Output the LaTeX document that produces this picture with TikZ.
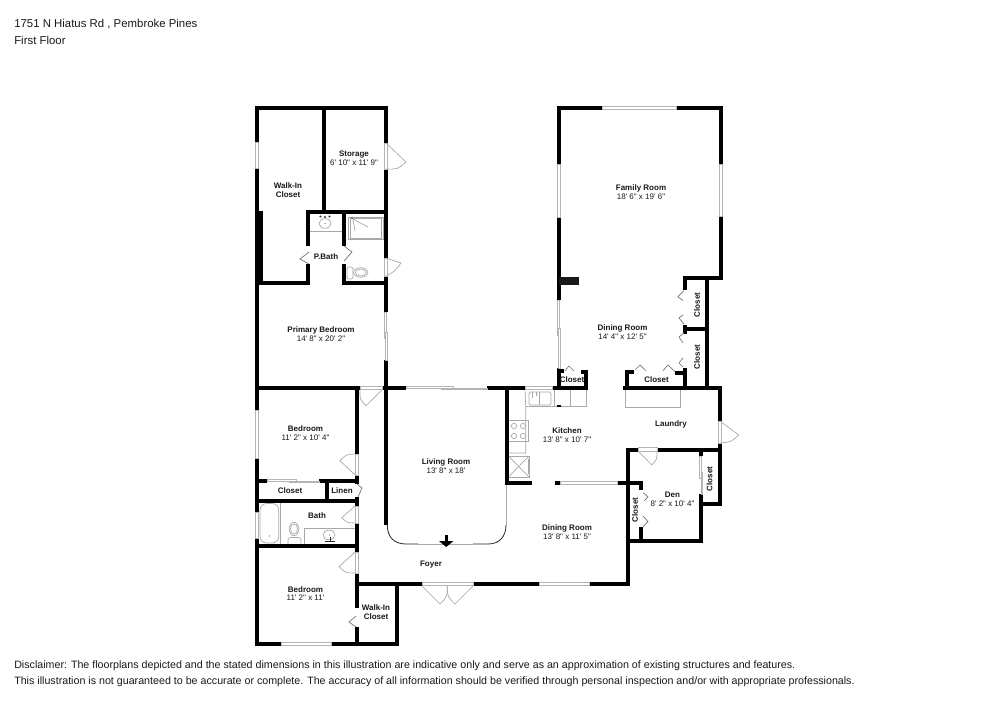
\documentclass[tikz,border=0pt]{standalone}
\usepackage{fontspec}
\newfontfamily\lab{Liberation Sans}
\usetikzlibrary{calc}
\definecolor{wingray}{HTML}{B4B4B4}
\definecolor{leafgray}{HTML}{A8A8A8}
\definecolor{chevgray}{HTML}{707070}
\tikzset{
  wall/.style={line width=3pt,line cap=butt,line join=miter,black},
  wintop/.style={draw=wingray,fill=white,line width=0.5pt},
  doorleaf/.style={draw=leafgray,line width=0.5pt},
  chev/.style={draw=chevgray,line width=0.5pt},
  fix/.style={draw=leafgray,line width=0.5pt},
  roomlab/.style={font=\lab\fontsize{6}{6.6}\selectfont,align=center,inner sep=0pt,text=black!90},
  headlab/.style={font=\lab\fontsize{8.55}{10}\selectfont,anchor=base west,inner sep=0pt,text=black!90},
  disclab/.style={font=\lab\fontsize{8.01}{10}\selectfont,anchor=base west,inner sep=0pt,text=black!90},
}
\newcommand{\HWin}[3]{\draw[wintop] (#1,#3-1.7) rectangle (#2,#3+1.7);}
\newcommand{\VWin}[3]{\draw[wintop] (#3-1.7,#1) rectangle (#3+1.7,#2);}
\newcommand{\Door}[3]{\draw[doorleaf] (#1) -- (#2) .. controls ($(#1)!1.17!($(#2)!.5!(#3)$)$) .. (#3);}
\newcommand{\Chev}[3]{\draw[chev] (#1) -- (#2) -- (#3);}
\begin{document}
\begin{tikzpicture}[x=0.75pt,y=-0.75pt]
\useasboundingbox (0,0) rectangle (1000,707);
\fill[white] (0,0) rectangle (1000,707);

% --- fixtures under the walls
% kitchen counters
\draw[fix] (525,388) -- (525.7,406.7) -- (525.7,453) -- (506.7,453);
\draw[fix] (525.7,406.7) -- (586,406.7) -- (586,388);
\draw[fix] (554,388) -- (554,406.7);
\draw[fix] (570.7,388) -- (570.7,406.7);
\draw[fix,rounded corners=1pt] (529,392) rectangle (551,405);
\draw[fix] (539.5,392) -- (539.5,405);
\draw[fix] (532,392) -- (532,398) (536,392) -- (536,396);
\fill[black] (557,405.3) rectangle (561,406.7);
\draw[fix] (508.5,420) rectangle (528,441.7);
\foreach \cx/\cy in {514/426,523/426,514/436,523/436} \draw[fix] (\cx,\cy) circle (2pt);
\draw[fix] (508.5,456) rectangle (529,477);
\draw[fix] (508.5,456) -- (529,477) (508.5,477) -- (529,456);
\draw[fix,line width=1pt] (528.5,459) -- (528.5,474);
% laundry counter
\draw[fix] (625,388) -- (625,407) -- (680,407) -- (680,388);
% shower
\draw[fix] (348,217) rectangle (383,239.5);
\draw[fix] (350,218.5) rectangle (381,238);
\draw[fix] (353,219) -- (368,227) (353,219) -- (355,231);
\fill[chevgray] (352,218) circle (0.8pt);
% P.Bath sink
\draw[fix] (309.7,231) -- (342,231);
\draw[fix] (325,223.5) ellipse (4.5pt and 3.6pt);
\fill[black!80] (320.5,216.5) circle (0.9pt) (325,217) circle (0.8pt) (329.5,216.5) circle (0.9pt);
\fill[chevgray] (325,223.5) circle (0.4pt);
% P.Bath toilet
\draw[fix,rounded corners=1.5pt] (347,267) rectangle (353,279);
\draw[fix] (360.7,272.5) ellipse (5.4pt and 3.6pt);
\draw[fix] (360.7,272.5) ellipse (4pt and 2.6pt);
% tub
\draw[fix] (280.7,502.5) -- (280.7,544);
\draw[fix,rounded corners=5pt] (260,503.5) rectangle (278.8,543);
\fill[chevgray] (269.5,536) circle (0.4pt);
% Bath toilet
\draw[fix] (294,529) ellipse (3.6pt and 5pt);
\draw[fix] (294,529) ellipse (2.6pt and 3.8pt);
\draw[fix,rounded corners=2pt] (288,544) -- (288,537.5) -- (301,537.5) -- (301,544);
% Bath vanity
\draw[fix] (304,544) -- (304,528.3) -- (355,528.3);
\draw[fix] (329,535) ellipse (4.5pt and 3.6pt);
\fill[black!85] (325,540.5) rectangle (335,541.5);
\fill[black!85] (329.5,537) rectangle (330.5,541.5);
\fill[chevgray] (329.5,535) circle (0.4pt);

% --- walls
\draw[wall] (386,143) -- (386,108) -- (256.7,108) -- (256.7,142);
\draw[wall] (256.7,168) -- (256.7,410);
\draw[wall] (256.7,458) -- (256.7,512);
\draw[wall] (256.7,538) -- (256.7,644) -- (281,644);
\draw[wall] (331,644) -- (397,644) -- (397,584);
\fill[black] (255,211) rectangle (262.7,285);
\draw[wall] (323.5,108) -- (323.5,212);
\draw[wall] (307.7,246) -- (307.7,212) -- (386,212);
\draw[wall] (307.7,264) -- (307.7,283) -- (256.7,283);
\draw[wall] (344,212) -- (344,246);
\draw[wall] (344,264) -- (344,283) -- (386,283);
\draw[wall] (386,169) -- (386,258);
\draw[wall] (386,276) -- (386,312);
\draw[wall] (386,360) -- (386,525);
\draw[wall] (256.7,388) -- (360,388);
\draw[wall] (382,388) -- (406,388);
\draw[wall] (356.7,388) -- (356.7,454);
\draw[wall] (356.7,475) -- (356.7,484);
\draw[wall] (356.7,497) -- (356.7,506);
\draw[wall] (356.7,523) -- (356.7,552);
\draw[wall] (356.7,573) -- (356.7,608);
\draw[wall] (356.7,627) -- (356.7,644);
\draw[wall] (256.7,481) -- (267,481);
\draw[wall] (319,481) -- (358.6,481);
\draw[wall] (327,481) -- (327,500.7);
\draw[wall] (256.7,500.7) -- (358.6,500.7);
\draw[wall] (256.7,546) -- (358.6,546);
\draw[wall] (357,584) -- (422,584);
\draw[wall] (473,584) -- (539,584);
\draw[wall] (589,584) -- (627.7,584) -- (627.7,449.5) -- (638,449.5);
\draw[wall] (657,449.5) -- (720,449.5);
\draw[wall] (487,388) -- (525,388);
\draw[wall] (552,388) -- (587.6,388);
\draw[wall] (581,372) -- (585.7,372) -- (585.7,388);
\draw[wall] (506.7,388) -- (506.7,482.7) -- (532,482.7);
\draw[wall] (555,482.7) -- (560.7,482.7);
\draw[wall] (617,482.7) -- (641,482.7) -- (641,490);
\draw[wall] (641,527) -- (641,541);
\draw[wall] (627.7,541) -- (701,541) -- (701,494);
\draw[wall] (701,456) -- (701,449.5);
\draw[wall] (701,504) -- (720,504) -- (720,443);
\draw[wall] (720,421) -- (720,388) -- (622.7,388);
\draw[wall] (627,388) -- (627,372) -- (634,372);
\draw[wall] (675,372.7) -- (685,372.7) -- (685,388);
\draw[wall] (685,368) -- (685,372.7);
\draw[wall] (685,325) -- (685,334);
\draw[wall] (685,329) -- (706.7,329);
\draw[wall] (685,290) -- (685,278) -- (722.9,278);
\draw[wall] (706.7,278) -- (706.7,388);
\draw[wall] (721,279.9) -- (721,216);
\draw[wall] (721,164) -- (721,108) -- (676,108);
\draw[wall] (602,108) -- (559,108) -- (559,164);
\draw[wall] (559,217) -- (559,300);
\draw[wall] (559,368) -- (559,388);
\draw[wall] (559,371) -- (564,371);
\fill[black!90] (559,277) rectangle (579,285);

% --- windows and door openings
\VWin{142}{168}{256.7}
\VWin{143}{169}{386}
\VWin{258}{276}{386}
\draw[wintop] (384.3,312) rectangle (386.2,338);
\draw[wintop] (385.8,332) rectangle (387.7,360);
\VWin{410}{458}{256.7}
\HWin{360}{382}{388}
\VWin{454}{475}{356.7}
\draw[wintop] (267,479.3) rectangle (296,481);
\draw[wintop] (289,481) rectangle (319,482.7);
\VWin{512}{538}{256.7}
\VWin{506}{523}{356.7}
\VWin{552}{573}{356.7}
\HWin{281}{331}{644}
\draw[wintop] (406,386.3) rectangle (453,388);
\draw[wintop] (441,388) rectangle (487,389.7);
\HWin{525}{552}{388}
\HWin{422}{473}{584}
\HWin{539}{589}{584}
\draw[wintop] (560.7,481.4) rectangle (617,484);
\HWin{638}{657}{449.5}
\VWin{421}{443}{720}
\draw[wintop] (699.3,456) rectangle (701,478);
\draw[wintop] (701,472) rectangle (702.7,494);
\HWin{602}{676}{108}
\VWin{164}{217}{559}
\VWin{164}{216}{721}
\draw[wintop] (557.7,300) rectangle (559.3,335);
\draw[wintop] (558.7,328) rectangle (560.3,368);

% --- door leaves
\Door{386,143}{406,162}{386,169}
\Door{386,258}{401,263}{386,276}
\Door{382,390}{366,405.7}{360,390}
\Door{355,475}{340,460.7}{355,454}
\Door{355,506}{341.7,517.7}{355,523}
\Door{355,552}{339,566.7}{355,573}
\Door{720,421}{738.7,435}{720,443}
\Door{638,451}{651.7,465}{657,451}
\Door{422,586}{440,604}{447.3,586}
\Door{473,586}{455,604}{447.3,586}

% --- bifold chevrons
\Chev{309,252}{300,259}{309,264}
\Chev{344,246}{352,252}{344,261}
\Chev{357,484}{362,488}{358,497}
\Chev{356,616}{349,622}{356,627}
\Chev{643.3,492.7}{648,497}{644,500.7}
\Chev{643,516}{648,521.7}{643,526.7}
\Chev{684,290.7}{678,296.7}{683,300.7}
\Chev{684,324}{679,318}{683,315}
\Chev{684,332.7}{679,337}{683,343}
\Chev{683,367}{679,363}{683,358}
\Chev{635,370}{640,365}{646,370.7}
\Chev{663,370.7}{668,365}{675,371.7}
\Chev{565,370.7}{569,366}{574,371}

% --- living room opening and stair arrow
\draw[line width=0.6pt,black!85] (387.3,525) .. controls (387.3,537) and (394,544) .. (406,544) -- (418,544);
\draw[fix,line width=0.6pt] (418,544) -- (473,544);
\draw[line width=0.6pt,black!85] (473,544) -- (488,544) .. controls (499,544) and (506,537) .. (506,525);
\draw[fix,line width=0.6pt] (506,525) -- (506,485);
\fill[black] (445,534.5) rectangle (447.5,542);
\fill[black] (439,541) -- (453.5,541) -- (446.2,547) -- cycle;

% --- text
\node[headlab] (addr) at (14,27) {1751 N Hiatus Rd , Pembroke Pines};
\node[headlab] (flr) at (14,44) {First Floor};
\node[disclab] (disc1) at (14,668) {Disclaimer: The floorplans depicted and the stated dimensions in this illustration are indicative only and serve as an approximation of existing structures and features.};
\node[disclab] (disc2) at (14,684) {This illustration is not guaranteed to be accurate or complete. The accuracy of all information should be verified through personal inspection and/or with appropriate professionals.};

\node[roomlab] (rStorage) at (354,158.5) {\textbf{Storage}\\6' 10" x 11' 9"};
\node[roomlab] (rWic) at (288,190) {\textbf{Walk-In}\\\textbf{Closet}};
\node[roomlab] (rPBath) at (326,256.5) {\textbf{P.Bath}};
\node[roomlab] (rPrimary) at (321,334.5) {\textbf{Primary Bedroom}\\14' 8" x 20' 2"};
\node[roomlab] (rBed1) at (305.5,433.5) {\textbf{Bedroom}\\11' 2" x 10' 4"};
\node[roomlab] (rCloset1) at (290,490.5) {\textbf{Closet}};
\node[roomlab] (rLinen) at (342,490.5) {\textbf{Linen}};
\node[roomlab] (rBath) at (317,516) {\textbf{Bath}};
\node[roomlab] (rBed2) at (305.5,593.5) {\textbf{Bedroom}\\11' 2" x 11'};
\node[roomlab] (rWic2) at (376,612) {\textbf{Walk-In}\\\textbf{Closet}};
\node[roomlab] (rFoyer) at (431,565) {\textbf{Foyer}};
\node[roomlab] (rLiving) at (446,466) {\textbf{Living Room}\\13' 8" x 18'};
\node[roomlab] (rKitchen) at (567,435) {\textbf{Kitchen}\\13' 8" x 10' 7"};
\node[roomlab] (rLaundry) at (671,424) {\textbf{Laundry}};
\node[roomlab] (rDining) at (567,532) {\textbf{Dining Room}\\13' 8" x 11' 5"};
\node[roomlab] (rDen) at (672.5,499) {\textbf{Den}\\8' 2" x 10' 4"};
\node[roomlab,rotate=90] (rCloset2) at (635,510) {\textbf{Closet}};
\node[roomlab,rotate=90] (rCloset3) at (709.5,479) {\textbf{Closet}};
\node[roomlab] (rFamily) at (641,192) {\textbf{Family Room}\\18' 6" x 19' 6"};
\node[roomlab] (rDining2) at (622.5,332.5) {\textbf{Dining Room}\\14' 4" x 12' 5"};
\node[roomlab,rotate=90] (rCloset4) at (697,305) {\textbf{Closet}};
\node[roomlab,rotate=90] (rCloset5) at (697,357) {\textbf{Closet}};
\node[roomlab] (rCloset6) at (656.5,380) {\textbf{Closet}};
\node[roomlab] (rCloset7) at (572,380) {\textbf{Closet}};
\end{tikzpicture}
\end{document}
